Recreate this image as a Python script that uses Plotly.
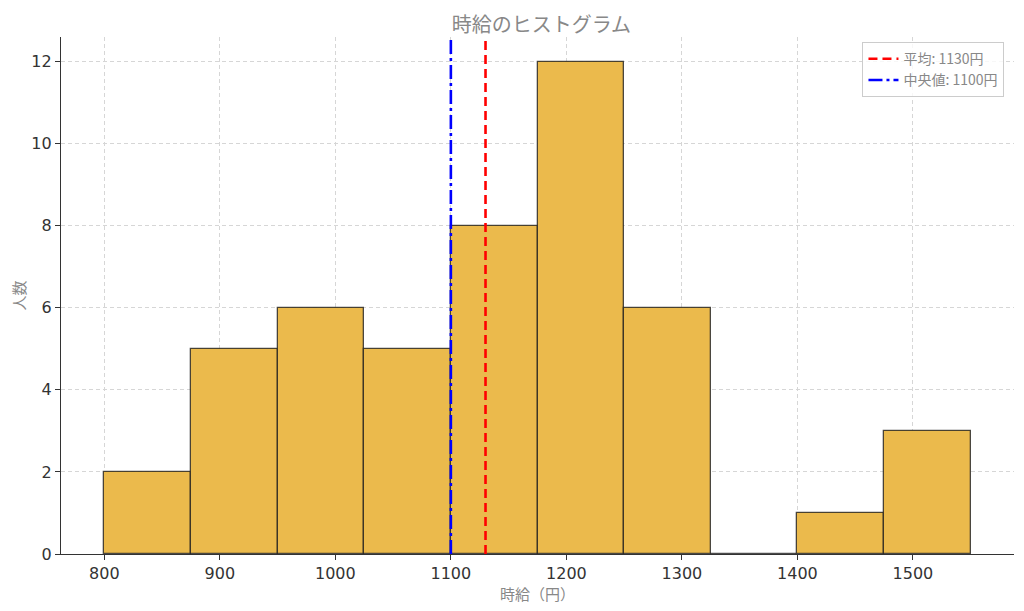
import plotly.graph_objects as go

# histogram data (bin edges + counts)
bin_edges = [800, 875, 950, 1025, 1100, 1175, 1250, 1325, 1400, 1475, 1550]
counts = [2, 5, 6, 5, 8, 12, 6, 0, 1, 3]
mean_wage = 1130
median_wage = 1100

bin_width = bin_edges[1] - bin_edges[0]
centers = [(a + b) / 2 for a, b in zip(bin_edges[:-1], bin_edges[1:])]

jp_font = "Noto Sans CJK JP"
num_font = "DejaVu Sans"
y_top = 12.6

fig = go.Figure()

fig.add_trace(go.Bar(
    x=centers,
    y=counts,
    width=bin_width,
    marker=dict(color="#EBBA4C", line=dict(color="rgba(30,30,30,0.8)", width=1.3)),
    showlegend=False,
))

fig.add_trace(go.Scatter(
    x=[mean_wage, mean_wage], y=[0, y_top],
    mode="lines",
    line=dict(color="red", width=2.6, dash="9px,5px"),
    name=f"平均: {mean_wage}円",
))

fig.add_trace(go.Scatter(
    x=[median_wage, median_wage], y=[0, y_top],
    mode="lines",
    line=dict(color="blue", width=2.6, dash="14px,4px,3px,4px"),
    name=f"中央値: {median_wage}円",
))

# page body has an 8px margin, so the figure is sized a bit smaller
fig.update_layout(
    width=1016, height=603,
    margin=dict(l=53, r=10, t=29, b=57),
    paper_bgcolor="white",
    plot_bgcolor="white",
    title=dict(text="時給のヒストグラム", x=0.525, xanchor="center",
               yref="container", y=0.972, yanchor="middle",
               font=dict(family=jp_font, size=20, color="#888888")),
    legend=dict(x=0.99, y=0.99, xanchor="right", yanchor="top",
                bgcolor="rgba(255,255,255,0.8)", bordercolor="#cccccc", borderwidth=1,
                font=dict(family=jp_font, size=14, color="#888888"),
                tracegroupgap=2),
    bargap=0,
)

fig.update_xaxes(
    range=[762.5, 1587.5],
    tickvals=[800, 900, 1000, 1100, 1200, 1300, 1400, 1500],
    showgrid=True, gridcolor="#d6d6d6", griddash="4px,3px", gridwidth=1,
    showline=True, linecolor="#333333", linewidth=1.2,
    ticks="outside", ticklen=5, tickcolor="#333333",
    tickfont=dict(family=num_font, size=16, color="#333333"),
    zeroline=False,
    title=dict(text="時給（円）", font=dict(family=jp_font, size=15, color="#888888"), standoff=4),
)

fig.update_yaxes(
    range=[0, y_top],
    tickvals=[0, 2, 4, 6, 8, 10, 12],
    showgrid=True, gridcolor="#d6d6d6", griddash="4px,3px", gridwidth=1,
    showline=True, linecolor="#333333", linewidth=1.2,
    ticks="outside", ticklen=5, tickcolor="#333333",
    tickfont=dict(family=num_font, size=16, color="#333333"),
    zeroline=False,
    title=dict(text="人数", font=dict(family=jp_font, size=15, color="#888888"), standoff=4),
)

fig.write_html("out.html")
